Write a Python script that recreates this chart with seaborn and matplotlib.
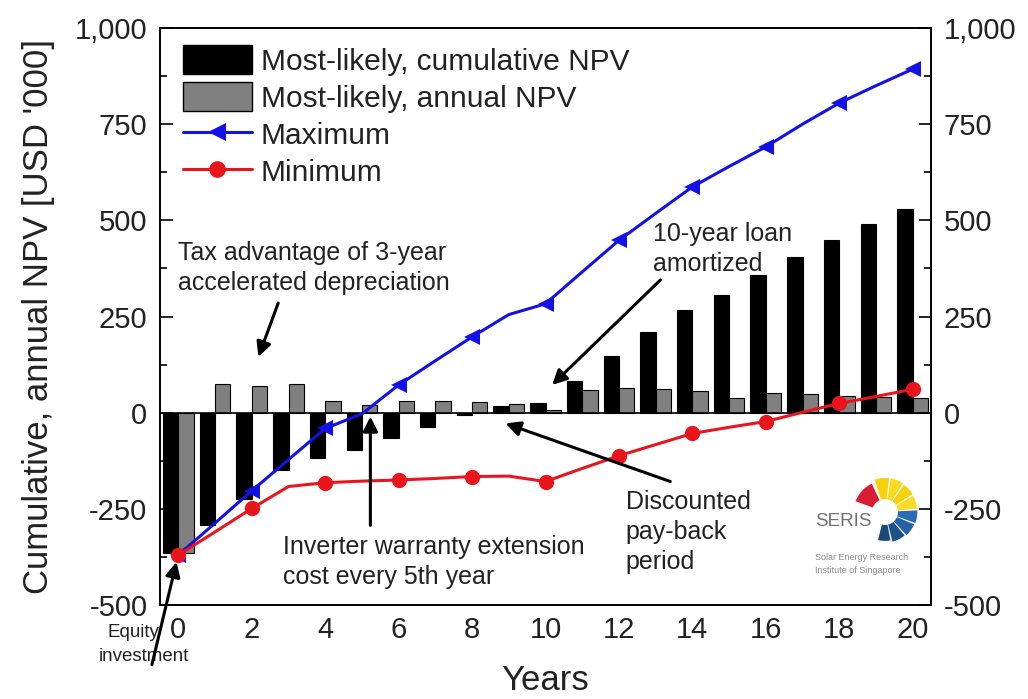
import matplotlib
matplotlib.use("Agg")
import matplotlib.pyplot as plt
import pandas as pd
import seaborn as sns
from matplotlib.patches import Patch, Wedge
from matplotlib.lines import Line2D
from matplotlib.ticker import MultipleLocator, FuncFormatter

# ---- data (USD '000) ----
years = list(range(21))
cumulative_npv = [-365, -293, -225, -150, -118, -97, -66, -36, -6, 17, 24,
                  82, 148, 210, 268, 306, 357, 405, 449, 491, 530]
annual_npv = [-365, 74, 69, 75, 31, 20, 31, 30, 28, 22, 6,
              58, 64, 61, 57, 37, 50, 48, 44, 41, 38]
maximum_npv = [-370, -287, -203, -122, -41, -3, 72, 135, 197, 255, 283,
               366, 448, 518, 587, 640, 691, 750, 805, 850, 893]
minimum_npv = [-370, -310, -249, -192, -182, -178, -175, -171, -166, -165, -179,
               -145, -112, -83, -54, -38, -23, 1, 24, 42, 61]

series_names = ["Most-likely, cumulative NPV", "Most-likely, annual NPV"]
line_names = ["Maximum", "Minimum"]
y_ticks = [-500, -250, 0, 250, 500, 750, 1000]

sns.set_theme(style="white")
plt.rcParams["font.family"] = ["Liberation Sans", "DejaVu Sans"]

TEXT = "#222222"
fig = plt.figure(figsize=(10.28, 6.99), dpi=100)
ax = fig.add_axes([160 / 1028, 1 - 605 / 699, 771 / 1028, 577 / 699])

bars = pd.DataFrame({
    "Year": years * 2,
    "NPV": cumulative_npv + annual_npv,
    "Series": [series_names[0]] * len(years) + [series_names[1]] * len(years),
})
sns.barplot(data=bars, x="Year", y="NPV", hue="Series", hue_order=series_names,
            palette=["black", "#808080"], native_scale=True, width=0.84,
            edgecolor="black", linewidth=0.8, errorbar=None, legend=False,
            ax=ax, zorder=2)

sns.lineplot(x=years, y=maximum_npv, color="#1212e6", lw=2.2, marker="<",
             markersize=12, markevery=2, markeredgewidth=0, ax=ax, zorder=4)
sns.lineplot(x=years, y=minimum_npv, color="#e8161c", lw=2.2, marker="o",
             markersize=11, markevery=2, markeredgewidth=0, ax=ax, zorder=4)

ax.set_xlim(-0.5, 20.5)
ax.set_ylim(-500, 1000)
fmt = FuncFormatter(lambda v, _: f"{int(round(v)):,}")
ax.xaxis.set_major_locator(MultipleLocator(2))
ax.xaxis.set_minor_locator(MultipleLocator(1))
ax.set_yticks(y_ticks)
ax.yaxis.set_minor_locator(MultipleLocator(125))
ax.yaxis.set_major_formatter(fmt)

ax2 = ax.twinx()
ax2.set_ylim(-500, 1000)
ax2.set_yticks(y_ticks)
ax2.yaxis.set_minor_locator(MultipleLocator(125))
ax2.yaxis.set_major_formatter(fmt)

for a in (ax, ax2):
    a.tick_params(which="both", direction="in", colors="black",
                  labelcolor=TEXT, labelsize=21, width=1.2)
    a.tick_params(which="major", length=9, pad=9)
    a.tick_params(which="minor", length=5)
    for sp in a.spines.values():
        sp.set_color("black")
        sp.set_linewidth(1.2)
ax.tick_params(axis="y", which="both", right=False)
ax.tick_params(axis="x", which="both", top=False, pad=8)
ax2.tick_params(axis="y", which="both", left=False)

ax.axhline(0, color="black", lw=1.2, zorder=3)

ax.set_xlabel("Years", fontsize=25, color=TEXT)
ax.set_ylabel("Cumulative, annual NPV [USD '000]", fontsize=25, color=TEXT)
ax.xaxis.set_label_coords(0.5, -0.103)
ax.yaxis.set_label_coords(-0.136, 0.5)

# legend
handles = [
    Patch(facecolor="black", edgecolor="black", label=series_names[0]),
    Patch(facecolor="#808080", edgecolor="black", label=series_names[1]),
    Line2D([0], [0], color="#1212e6", lw=2.2, marker="<", markersize=13,
           markeredgewidth=0, label=line_names[0]),
    Line2D([0], [0], color="#e8161c", lw=2.2, marker="o", markersize=12,
           markeredgewidth=0, label=line_names[1]),
]
leg = ax.legend(handles=handles, loc="upper left", bbox_to_anchor=(0.03, 0.970),
                frameon=False, fontsize=21.5, borderpad=0, borderaxespad=0,
                handlelength=2.3, handleheight=1.1, handletextpad=0.3,
                labelspacing=0.22, numpoints=1)
for t in leg.get_texts():
    t.set_color(TEXT)

# annotations
arrow = dict(arrowstyle="-|>", color="black", lw=2.2, mutation_scale=22,
             shrinkA=0, shrinkB=0)
notes = [
    ("Tax advantage of 3-year\naccelerated depreciation", (0.0, 376), (2.72, 285), (2.18, 145)),
    ("10-year loan\namortized", (12.94, 426), (13.13, 345), (10.18, 72)),
    ("Discounted\npay-back\nperiod", (12.18, -310), (13.4, -179), (8.91, -28)),
    ("Inverter warranty extension\ncost every 5th year", (2.86, -388), (5.23, -293), (5.23, -10)),
]
for text, pos, start, end in notes:
    ax.text(pos[0], pos[1], text, fontsize=18, color=TEXT, ha="left",
            va="center", linespacing=1.3, zorder=5)
    ax.annotate("", xy=end, xytext=start, arrowprops=arrow, zorder=5)

# equity note below the plot, split over two lines beside the first tick label
ax.text(-1.23, -571, "Equity", fontsize=13.5, color=TEXT,
        ha="center", va="center", clip_on=False)
ax.text(-0.95, -634, "investment", fontsize=13.5, color=TEXT,
        ha="center", va="center", clip_on=False)
ax.annotate("", xy=(-0.05, -388), xytext=(-0.72, -655), arrowprops=arrow,
            annotation_clip=False)

# institute logo
lax = fig.add_axes([851 / 1028, 1 - 546 / 699, 68 / 1028, 68 / 699])
lax.set_xlim(-1, 1)
lax.set_ylim(-1, 1)
lax.axis("off")
segments = [
    (115, 160, "#d81e35", 0.92),
    (83, 108, "#f6d20c", 1.0),
    (58, 80, "#f8da1e", 1.0),
    (33, 55, "#f6d20c", 0.97),
    (6, 30, "#f8dc2a", 0.95),
    (-20, 3, "#2a6bb5", 0.95),
    (-47, -23, "#2461a6", 0.93),
    (-76, -50, "#1d5386", 0.9),
    (-104, -79, "#1b4a78", 0.85),
]
for t1, t2, c, r in segments:
    lax.add_patch(Wedge((0, 0), r, t1, t2, width=r - 0.38, color=c, lw=0))

fig.text(815 / 1028, 1 - 522 / 699, "SERIS", fontsize=13.5, color="#707070",
         ha="left", va="center")
fig.text(815 / 1028, 1 - 564 / 699, "Solar Energy Research\nInstitute of Singapore",
         fontsize=6.5, color="#8a8a8a", ha="left", va="center", linespacing=1.6)

fig.savefig("out.png", dpi=100)
